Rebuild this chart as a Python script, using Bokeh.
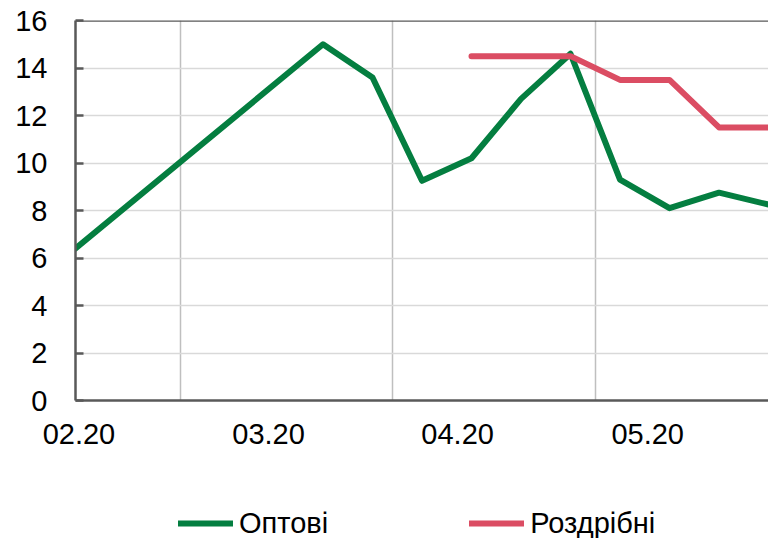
from bokeh.plotting import figure
from bokeh.models import Range1d, FixedTicker, Span, Legend, LegendItem
from bokeh.layouts import column
from bokeh.embed import file_html
from bokeh.resources import INLINE

# ---- data (weekly observations, week index from start) ----
wholesale_week = [0, 5, 6, 7, 8, 9, 10, 11, 12, 13, 14]
wholesale_vals = [6.4, 15.0, 13.6, 9.25, 10.2, 12.7, 14.6, 9.3, 8.1, 8.75, 8.25]
retail_week = [8, 9, 10, 11, 12, 13, 14]
retail_vals = [14.5, 14.5, 14.5, 13.5, 13.5, 11.5, 11.5]

series_names = ["Оптові", "Роздрібні"]
month_labels = ["02.20", "03.20", "04.20", "05.20"]
month_label_pos = [0.07, 3.9, 7.72, 11.56]
month_grid_pos = [2.12, 6.40, 10.5]
y_ticks = [0, 2, 4, 6, 8, 10, 12, 14, 16]

FONT = "Liberation Sans"
FS = "29px"
GREEN = "#047E40"
RED = "#DB4D63"
AXIS = "#595959"
LW = 6

p = figure(width=768, height=470, output_backend="svg", toolbar_location=None,
           x_range=Range1d(0, 693 / 49.5), y_range=Range1d(0, 16))
p.min_border_left = 75
p.min_border_right = 0
p.min_border_top = 20
p.min_border_bottom = 70
p.outline_line_color = None
p.background_fill_color = "white"

# axes
p.yaxis.ticker = FixedTicker(ticks=y_ticks)
p.yaxis.axis_line_color = AXIS
p.yaxis.axis_line_width = 2.5
p.yaxis.major_tick_line_color = AXIS
p.yaxis.major_tick_line_width = 2.5
p.yaxis.major_tick_in = 8
p.yaxis.major_tick_out = 0
p.yaxis.minor_tick_line_color = None
p.yaxis.major_label_standoff = 28
p.yaxis.major_label_text_font = FONT
p.yaxis.major_label_text_font_size = FS
p.yaxis.major_label_text_color = "black"

p.xaxis.ticker = FixedTicker(ticks=month_label_pos)
p.xaxis.major_label_overrides = {pos: lab for pos, lab in zip(month_label_pos, month_labels)}
p.xaxis.axis_line_color = AXIS
p.xaxis.axis_line_width = 2.5
p.xaxis.major_tick_line_color = None
p.xaxis.minor_tick_line_color = None
p.xaxis.major_tick_in = 0
p.xaxis.major_tick_out = 0
p.xaxis.major_label_standoff = 23
p.xaxis.major_label_text_font = FONT
p.xaxis.major_label_text_font_size = FS
p.xaxis.major_label_text_color = "black"

# grids
p.ygrid.ticker = FixedTicker(ticks=y_ticks)
p.ygrid.grid_line_color = "#D9D9D9"
p.ygrid.grid_line_width = 1.5
p.xgrid.ticker = FixedTicker(ticks=month_grid_pos)
p.xgrid.grid_line_color = "#BFBFBF"
p.xgrid.grid_line_width = 1.5

top = Span(location=y_ticks[-1], dimension="width", line_color=AXIS, line_width=2.5)
p.add_layout(top)

p.line(wholesale_week, wholesale_vals, line_color=GREEN, line_width=LW,
       line_cap="round", line_join="round")
p.line(retail_week, retail_vals, line_color=RED, line_width=LW,
       line_cap="round", line_join="round")

# ---- legend strip below the chart (series drawn off-view, only legend shows) ----
lg = figure(width=768, height=68, output_backend="svg", toolbar_location=None,
            x_range=Range1d(-200, -199), y_range=Range1d(0, 16))
lg.axis.visible = False
lg.grid.visible = False
lg.outline_line_color = None
lg.min_border_left = 0
lg.min_border_right = 0
lg.min_border_top = 0
lg.min_border_bottom = 0
g1 = lg.line(wholesale_week, wholesale_vals, line_color=GREEN, line_width=LW, line_cap="round")
g2 = lg.line(retail_week, retail_vals, line_color=RED, line_width=LW, line_cap="round")

legend = Legend(items=[LegendItem(label=series_names[0], renderers=[g1]),
                       LegendItem(label=series_names[1], renderers=[g2])],
                location=(103, -2), orientation="horizontal")
legend.padding = 0
legend.margin = 0
legend.spacing = 141
legend.glyph_width = 55
legend.glyph_height = 34
legend.label_standoff = 6
legend.label_height = 34
legend.label_text_font = FONT
legend.label_text_font_size = FS
legend.label_text_color = "black"
legend.border_line_color = None
legend.background_fill_alpha = 0
lg.add_layout(legend, "center")

layout = column(p, lg, spacing=0)
open("out.html", "w").write(file_html(layout, INLINE))
